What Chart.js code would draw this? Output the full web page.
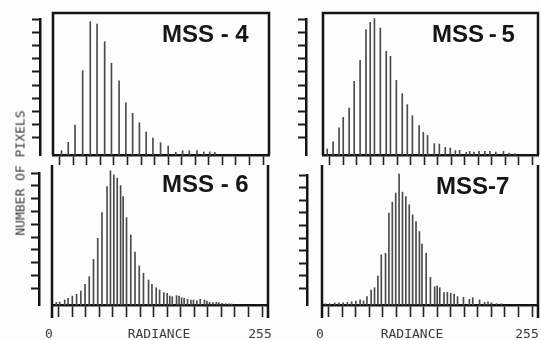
<!DOCTYPE html>
<html>
<head>
<meta charset="utf-8">
<script src="https://cdn.jsdelivr.net/npm/chart.js@4.4.1/dist/chart.umd.min.js"></script>
<style>
  html, body { margin: 0; padding: 0; background: #fdfdfc; }
  #wrap { position: relative; width: 541px; height: 340px; overflow: hidden; }
  canvas { position: absolute; left: 0; top: 0; }
  .ttl { position: absolute; font: bold 24px "Liberation Sans", Arial, sans-serif; line-height: 24px; color: #161616; white-space: pre; }
  .lbl { position: absolute; top: 327px; font: 13px "DejaVu Sans Mono", monospace; line-height: 13px; color: #3a3a3a; white-space: nowrap; transform: translateX(-50%); }
  #ylab { position: absolute; left: 20px; top: 173px; font: 13px "DejaVu Sans Mono", monospace; line-height: 13px; color: #3a3a3a; white-space: nowrap; transform: translate(-50%, -50%) rotate(-90deg); }
</style>
</head>
<body>
<div id="wrap">
  <canvas id="c1" width="541" height="340"></canvas>
  <canvas id="c2" width="541" height="340"></canvas>
  <canvas id="c3" width="541" height="340"></canvas>
  <canvas id="c4" width="541" height="340"></canvas>
  <div class="ttl" style="left:162px;top:22px">MSS - 4</div>
  <div class="ttl" style="left:432px;top:22px">MSS&#8201;-&#8201;5</div>
  <div class="ttl" style="left:162px;top:172px">MSS - 6</div>
  <div class="ttl" style="left:436px;top:174px">MSS-7</div>
  <div class="lbl" style="left:49px">0</div>
  <div class="lbl" style="left:159px">RADIANCE</div>
  <div class="lbl" style="left:260px">255</div>
  <div class="lbl" style="left:320px">0</div>
  <div class="lbl" style="left:412px">RADIANCE</div>
  <div class="lbl" style="left:527px">255</div>
  <div id="ylab">NUMBER OF PIXELS</div>
</div>
<script>
// radiance positions of the histogram lines and their heights (in ruler tick units)
const MSS4_RAD = [10, 18, 26, 35, 44, 52, 61, 69, 78, 86, 94, 102, 110, 118, 127, 136, 145, 153, 161, 170, 178, 185, 191];
const MSS4_N = [0.33, 0.96, 2.27, 6.39, 10.1, 9.92, 8.58, 6.95, 5.61, 3.96, 3.16, 2.45, 1.74, 1.29, 0.93, 0.68, 0.2, 0.33, 0.33, 0.33, 0.23, 0.23, 0.2];

const MSS5_RAD = [5, 12, 19, 24, 31, 37, 44, 51, 56, 61, 68, 75, 80, 87, 94, 100, 106, 114, 119, 124,
  132, 138, 145, 151, 157, 162, 170, 174, 179, 185, 192, 198, 205, 214, 221, 228];
const MSS5_N = [0.45, 1.0, 2.05, 2.85, 3.56, 5.58, 7.17, 9.49, 10.05, 10.33, 9.62, 7.85, 7.47, 5.65, 4.64, 3.81, 2.98, 2.22, 1.71, 1.48,
  0.86, 0.83, 0.58, 0.53, 0.33, 0.35, 0.2, 0.27, 0.23, 0.27, 0.27, 0.27, 0.23, 0.27, 0.15, 0.1];

const MSS6_RAD = [5, 9, 15, 19, 24, 29, 34, 39, 44, 49, 54, 59, 65, 69, 73, 77, 81, 84, 88, 93,
  98, 103, 108, 114, 118, 123, 127, 132, 136, 139, 142, 147, 150, 153, 156, 160, 164, 167, 171, 175,
  180, 183, 186, 190, 194, 197, 201, 205, 209, 212];
const MSS6_N = [0.21, 0.23, 0.39, 0.52, 0.7, 0.84, 1.09, 1.62, 2.21, 3.57, 5.21, 7.21, 9.24, 10.47, 10.16, 9.9, 9.32, 8.46, 6.82, 5.47,
  4.12, 3.05, 2.48, 1.95, 1.62, 1.35, 1.17, 0.96, 0.91, 0.7, 0.65, 0.73, 0.7, 0.57, 0.52, 0.45, 0.39, 0.39, 0.34, 0.45,
  0.39, 0.31, 0.21, 0.18, 0.21, 0.18, 0.13, 0.1, 0.1, 0.08];

const MSS7_RAD = [4, 9, 15, 20, 25, 30, 35, 40, 45, 49, 53, 58, 62, 66, 70, 75, 79, 83, 87, 91,
  95, 99, 103, 107, 111, 115, 118, 123, 128, 133, 136, 139, 144, 148, 152, 156, 160, 167, 174, 178,
  186, 192, 196, 200, 206, 212];
const MSS7_N = [0.1, 0.1, 0.16, 0.18, 0.18, 0.21, 0.26, 0.32, 0.4, 0.32, 0.66, 1.19, 1.37, 2.3, 3.97, 4.1, 7.28, 8.15, 8.87, 10.37,
  8.94, 8.6, 7.94, 7.14, 6.61, 5.82, 4.82, 4.1, 2.2, 1.45, 1.51, 1.37, 0.98, 1.0, 0.93, 0.87, 0.66, 0.61, 0.45, 0.58,
  0.4, 0.21, 0.26, 0.18, 0.1, 0.1];

// tick marks along radiance axis and up the count ruler
const X_TICKS = [16, 32, 48, 64, 80, 96, 112, 128, 144, 160, 176, 192, 208, 224, 240];
const Y_TICKS = [1.3, 2.3, 3.3, 4.3, 5.3, 6.3, 7.3, 8.3, 9.3, 10.3];

// box around each plot (open on top for the lower row)
const framePlugin = {
  id: 'frame',
  afterDraw(chart, args, opts) {
    const { ctx, chartArea: a } = chart;
    const t = a.top - opts.above, b = a.bottom + opts.below;
    ctx.save();
    ctx.strokeStyle = '#141414';
    ctx.lineWidth = 2.5;
    ctx.beginPath();
    ctx.moveTo(a.left, b);
    ctx.lineTo(a.left, t);
    if (opts.top) ctx.lineTo(a.right, t); else ctx.moveTo(a.right, t);
    ctx.lineTo(a.right, b);
    ctx.stroke();
    ctx.restore();
  }
};

const panels = [
  { id: 'c1', rad: MSS4_RAD, n: MSS4_N, area: [53, 19, 269, 155], ruler: -15.3, tick: 10, frame: { top: true, above: 6, below: 0 } },
  { id: 'c2', rad: MSS5_RAD, n: MSS5_N, area: [323, 19, 538, 155], ruler: -20, tick: 10, frame: { top: true, above: 6, below: 0 } },
  { id: 'c3', rad: MSS6_RAD, n: MSS6_N, area: [52, 173, 268, 305], ruler: -15.3, tick: 12, frame: { top: false, above: 8, below: 13 } },
  { id: 'c4', rad: MSS7_RAD, n: MSS7_N, area: [322, 175, 538, 305], ruler: -17.7, tick: 12, frame: { top: false, above: 10, below: 13 } }
];

panels.forEach(p => {
  const a = p.area;
  new Chart(document.getElementById(p.id), {
    type: 'bar',
    data: {
      datasets: [{
        data: p.rad.map((r, i) => ({ x: r, y: p.n[i] })),
        backgroundColor: '#4a4a4a',
        barThickness: 1,
        clip: false
      }]
    },
    options: {
      responsive: false,
      animation: false,
      layout: { padding: { left: a[0], top: a[1], right: 541 - a[2], bottom: 340 - a[3] - p.tick } },
      plugins: {
        legend: { display: false },
        tooltip: { enabled: false },
        frame: p.frame
      },
      scales: {
        x: {
          type: 'linear',
          min: 0,
          max: 255,
          offset: false,
          afterBuildTicks: s => { s.ticks = X_TICKS.map(v => ({ value: v })); },
          ticks: { display: false },
          grid: { drawOnChartArea: false, tickLength: p.tick, tickWidth: 1.6, color: '#222' },
          border: { width: 2.5, color: '#141414' }
        },
        y: {
          position: { x: p.ruler },
          min: 0,
          max: 10.3,
          afterBuildTicks: s => { s.ticks = Y_TICKS.map(v => ({ value: v })); },
          ticks: { display: false },
          grid: { drawOnChartArea: false, tickLength: 7, tickWidth: 2, color: '#1a1a1a' },
          border: { width: 2.5, color: '#141414' }
        }
      }
    },
    plugins: [framePlugin]
  });
});
</script>
</body>
</html>
